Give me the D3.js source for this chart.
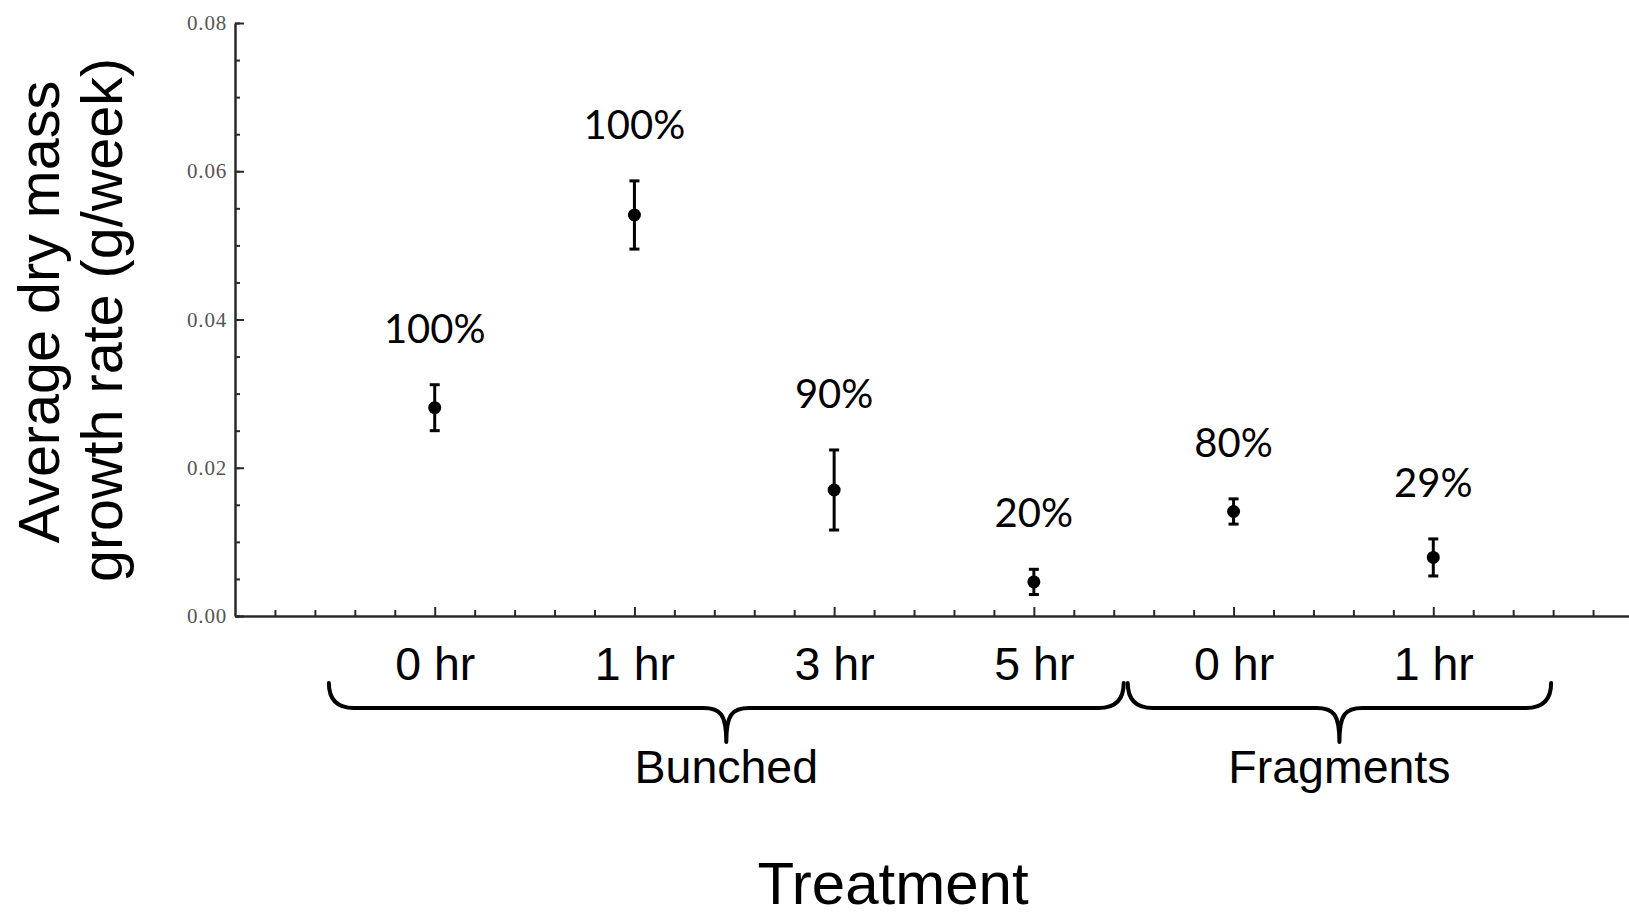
<!DOCTYPE html>
<html>
<head>
<meta charset="utf-8">
<script src="https://cdn.jsdelivr.net/npm/d3@7"></script>
<style>
  html, body { margin: 0; padding: 0; background: #fff; }
  svg { display: block; }
</style>
</head>
<body>
<svg id="chart" width="1629" height="918"></svg>
<script>
// Treatment categories (ordered along the x axis)
const categories = ["0 hr", "1 hr", "3 hr", "5 hr", "0 hr", "1 hr"];
// Mean dry-mass growth rate (g/week) and standard error per treatment
const means  = [0.0281, 0.0541, 0.0170, 0.0046, 0.0141, 0.0079];
const errors = [0.0031, 0.0046, 0.0054, 0.0017, 0.0017, 0.0025];
// Survival annotation per treatment
const survival = ["100%", "100%", "90%", "20%", "80%", "29%"];
// Treatment groups and the span (in category units) each brace covers
const groupNames = ["Bunched", "Fragments"];
const groupFrom  = [-0.53, 3.47];
const groupTo    = [3.45, 5.59];
// Y axis ticks
const yMajorTicks = [0, 0.02, 0.04, 0.06, 0.08];
const yTickLabels = ["0.00", "0.02", "0.04", "0.06", "0.08"];

const svg = d3.select("#chart");

const x = d3.scaleLinear().domain([-1, 6]).range([235, 1633]);
const y = d3.scaleLinear().domain([0, 0.08]).range([616, 23]);

const axisColor = "#2a2a2a";

// ---- Y axis: minor ticks, then major ticks with serif labels
const yMinor = d3.range(0, 0.0801, 0.005);
svg.append("g")
  .attr("transform", `translate(${x(-1)},0)`)
  .call(d3.axisLeft(y).tickValues(yMinor).tickSizeInner(-5).tickSizeOuter(0).tickFormat(""))
  .call(g => g.selectAll("line").attr("stroke", axisColor).attr("stroke-width", 2))
  .call(g => g.select(".domain").attr("stroke", axisColor).attr("stroke-width", 2.5));

svg.append("g")
  .attr("transform", `translate(${x(-1)},0)`)
  .call(d3.axisLeft(y).tickValues(yMajorTicks).tickSizeInner(-9).tickSizeOuter(0)
        .tickPadding(8).tickFormat((d, i) => yTickLabels[i]))
  .call(g => g.select(".domain").remove())
  .call(g => g.selectAll("line").attr("stroke", axisColor).attr("stroke-width", 2))
  .call(g => g.selectAll("text")
      .attr("font-family", "'Liberation Serif', 'DejaVu Serif', serif")
      .attr("font-size", 21)
      .attr("letter-spacing", 0.8)
      .attr("fill", "#555"));

// ---- X axis: minor ticks every 0.2 category, majors with category labels
const xMinor = d3.range(-0.8, 5.81, 0.2).filter(v => Math.abs(v - Math.round(v)) > 1e-6);
svg.append("g")
  .attr("transform", `translate(0,${y(0)})`)
  .call(d3.axisBottom(x).tickValues(xMinor).tickSizeInner(-6).tickSizeOuter(0).tickFormat(""))
  .call(g => g.selectAll("line").attr("stroke", axisColor).attr("stroke-width", 2))
  .call(g => g.select(".domain").attr("stroke", axisColor).attr("stroke-width", 2.5));

svg.append("g")
  .attr("transform", `translate(0,${y(0)})`)
  .call(d3.axisBottom(x).tickValues(d3.range(categories.length)).tickSizeInner(-9).tickSizeOuter(0)
        .tickPadding(31).tickFormat(i => categories[i]))
  .call(g => g.select(".domain").remove())
  .call(g => g.selectAll("line").attr("stroke", axisColor).attr("stroke-width", 2))
  .call(g => g.selectAll("text")
      .attr("font-family", "'Liberation Sans', Arial, sans-serif")
      .attr("font-size", 46.5)
      .attr("fill", "#000"));

// ---- Error bars and mean points
const pts = svg.append("g");
means.forEach((m, i) => {
  const cx = x(i);
  const top = y(m + errors[i]), bot = y(m - errors[i]);
  pts.append("line").attr("x1", cx).attr("x2", cx).attr("y1", top).attr("y2", bot)
    .attr("stroke", "#000").attr("stroke-width", 3);
  [top, bot].forEach(yy => pts.append("line")
    .attr("x1", cx - 5).attr("x2", cx + 5).attr("y1", yy).attr("y2", yy)
    .attr("stroke", "#000").attr("stroke-width", 3));
  pts.append("circle").attr("cx", cx).attr("cy", y(m)).attr("r", 6.5).attr("fill", "#000");
  // survival annotation above the bar
  pts.append("text")
    .attr("x", cx).attr("y", top - 42)
    .attr("text-anchor", "middle")
    .attr("font-family", "Lato, 'Open Sans', sans-serif")
    .attr("font-size", 40)
    .attr("fill", "#000")
    .text(survival[i]);
});

// ---- Curly braces grouping treatments
function bracePath(x1, x2, yEnd, yLine, yTip) {
  const mid = (x1 + x2) / 2, r = 25, r2 = 23;
  const p = d3.path();
  p.moveTo(x1, yEnd);
  p.quadraticCurveTo(x1, yLine, x1 + r, yLine);
  p.lineTo(mid - r2, yLine);
  p.bezierCurveTo(mid - 6, yLine, mid, yLine + 6, mid, yTip);
  p.moveTo(mid, yTip);
  p.bezierCurveTo(mid, yLine + 6, mid + 6, yLine, mid + r2, yLine);
  p.lineTo(x2 - r, yLine);
  p.quadraticCurveTo(x2, yLine, x2, yEnd);
  return p.toString();
}

const braces = svg.append("g");
groupNames.forEach((name, i) => {
  const x1 = x(groupFrom[i]), x2 = x(groupTo[i]);
  braces.append("path")
    .attr("d", bracePath(x1, x2, 683, 708, 742))
    .attr("fill", "none").attr("stroke", "#000").attr("stroke-width", 4)
    .attr("stroke-linecap", "round").attr("stroke-linejoin", "round");
  braces.append("text")
    .attr("x", (x1 + x2) / 2).attr("y", 783)
    .attr("text-anchor", "middle")
    .attr("font-family", "'Liberation Sans', Arial, sans-serif")
    .attr("font-size", 46.5)
    .attr("fill", "#000")
    .text(name);
});

// ---- Axis titles
svg.append("text")
  .attr("x", 893).attr("y", 904)
  .attr("text-anchor", "middle")
  .attr("font-family", "'Liberation Sans', Arial, sans-serif")
  .attr("font-size", 60)
  .attr("fill", "#000")
  .text("Treatment");

const yTitle = svg.append("text")
  .attr("transform", "translate(59,312) rotate(-90)")
  .attr("text-anchor", "middle")
  .attr("font-family", "'Liberation Sans', Arial, sans-serif")
  .attr("font-size", 57.5)
  .attr("fill", "#000");
yTitle.append("tspan").attr("x", 0).attr("y", 0).text("Average dry mass");
yTitle.append("tspan").attr("x", -8).attr("y", 63).text("growth rate (g/week)");
</script>
</body>
</html>
